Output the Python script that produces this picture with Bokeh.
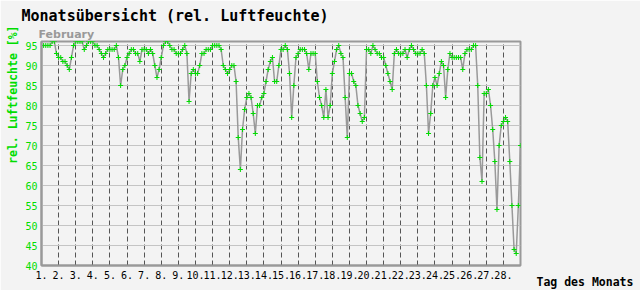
from bokeh.plotting import figure
from bokeh.models import Range1d, FixedTicker, Title, LinearAxis
from bokeh.embed import file_html
from bokeh.resources import INLINE

# ---------------- data ----------------
days = list(range(1, 29))
tick_labels = [f"{d}." for d in days]
y_ticks = [40, 45, 50, 55, 60, 65, 70, 75, 80, 85, 90, 95]
sample_hours = [0, 3, 6, 9, 12, 15, 18, 21]

# relative humidity [%], 3-hourly readings per day
day01 = [95, 95, 95, 95, 95, 96, 96, 93]
day02 = [92, 92, 91, 91, 90, 89, 92, 95]
day03 = [96, 96, 96, 96, 94, 95, 96, 96]
day04 = [96, 95, 95, 94, 93, 92, 93, 94]
day05 = [94, 94, 94, 95, 92, 85, 89, 90]
day06 = [92, 93, 94, 94, 93, 93, 91, 94]
day07 = [94, 94, 93, 94, 93, 90, 87, 89]
day08 = [92, 95, 96, 96, 95, 94, 94, 93]
day09 = [93, 93, 94, 95, 93, 81, 88, 89]
day10 = [88, 88, 90, 93, 93, 94, 94, 94]
day11 = [95, 95, 95, 95, 94, 90, 89, 88]
day12 = [89, 90, 90, 86, 72, 64, 74, 79]
day13 = [82, 83, 82, 78, 73, 80, 80, 82]
day14 = [83, 86, 89, 91, 92, 86, 86, 90]
day15 = [94, 94, 95, 94, 88, 77, 85, 92]
day16 = [93, 94, 94, 94, 93, 89, 93, 93]
day17 = [93, 86, 82, 80, 77, 84, 77, 80]
day18 = [88, 91, 94, 95, 93, 92, 82, 72]
day19 = [88, 88, 86, 85, 80, 78, 76, 77]
day20 = [94, 94, 93, 95, 94, 93, 93, 92]
day21 = [92, 90, 88, 86, 84, 93, 94, 93]
day22 = [93, 93, 94, 92, 94, 95, 94, 93]
day23 = [93, 93, 94, 93, 85, 73, 78, 85]
day24 = [87, 85, 88, 91, 90, 82, 89, 93]
day25 = [92, 92, 92, 92, 92, 89, 93, 94]
day26 = [94, 94, 95, 95, 85, 67, 61, 83]
day27 = [83, 84, 80, 74, 66, 54, 70, 75]
day28 = [76, 77, 76, 66, 55, 44, 43, 55]
month_end_value = 70

per_day = [day01, day02, day03, day04, day05, day06, day07, day08, day09, day10,
           day11, day12, day13, day14, day15, day16, day17, day18, day19, day20,
           day21, day22, day23, day24, day25, day26, day27, day28]

t = [d + h / 24 for d, vals in zip(days, per_day) for h in sample_hours] + [29.0]
rh = [v for vals in per_day for v in vals] + [month_end_value]

# ---------------- styling ----------------
BG = "#f3f3f3"
GREEN = "#00dd00"
MONO = "DejaVu Sans Mono"

p = figure(width=640, height=290, output_backend="svg", toolbar_location=None,
           title=None,
           x_range=Range1d(1, 29), y_range=Range1d(40, 96),
           min_border_left=40, min_border_right=120,
           min_border_top=41, min_border_bottom=25)
p.background_fill_color = BG
p.border_fill_color = BG
p.outline_line_color = "#999999"
p.outline_line_width = 2

p.xaxis.ticker = FixedTicker(ticks=days)
p.xaxis.major_label_overrides = {d: lab for d, lab in zip(days, tick_labels)}
p.yaxis.ticker = FixedTicker(ticks=y_ticks)

for ax in (p.xaxis[0], p.yaxis[0]):
    ax.axis_line_color = "#999999"
    ax.axis_line_width = 2
    ax.major_tick_line_color = None
    ax.minor_tick_line_color = None
    ax.major_tick_out = 0
    ax.major_tick_in = 0
    ax.minor_tick_out = 0
    ax.major_label_text_font = MONO

p.xaxis.major_label_text_font_size = "10px"
p.xaxis.major_label_text_color = "black"
p.xaxis.major_label_standoff = 5
p.yaxis.major_label_text_font_size = "10px"
p.yaxis.major_label_text_color = GREEN
p.yaxis.major_label_standoff = 4

p.ygrid.grid_line_color = "#c4c4c4"
p.ygrid.grid_line_width = 1
p.xgrid.grid_line_color = "#555555"
p.xgrid.grid_line_dash = "5 3"
p.xgrid.grid_line_width = 1

p.line(t, rh, line_color="#999999", line_width=1.5)
p.scatter(t, rh, marker="cross", size=5, line_color=GREEN, line_width=1)

# titles above the frame
p.add_layout(Title(text="February", align="left", offset=-3, standoff=2,
                   text_font="DejaVu Sans", text_font_size="11px",
                   text_font_style="bold", text_color="#999999"), "above")
p.add_layout(Title(text="Monatsübersicht (rel. Luftfeuchte)", align="left",
                   offset=-20, standoff=0, text_font=MONO, text_font_size="15px",
                   text_font_style="bold", text_color="black"), "above")

# y axis title (left side, rotated)
p.add_layout(Title(text="rel. Luftfeuchte [%]", align="right", offset=-16,
                   standoff=6, text_font=MONO, text_font_size="11.5px",
                   text_font_style="bold", text_color=GREEN), "left")

# x axis title at bottom right: a label-only axis in the right-side panel,
# one tick at the bottom of the value range, label pushed down by two blank lines
xt_axis = LinearAxis(ticker=FixedTicker(ticks=[y_ticks[0]]),
                     major_label_overrides={y_ticks[0]: "\n\nTag des Monats"},
                     axis_line_color=None, major_tick_line_color=None,
                     minor_tick_line_color=None, major_tick_out=0, major_tick_in=0,
                     minor_tick_out=0, major_label_standoff=16,
                     major_label_text_font=MONO, major_label_text_font_size="11.5px",
                     major_label_text_font_style="bold",
                     major_label_text_color="black")
p.add_layout(xt_axis, "right")

open("out.html", "w").write(file_html(p, INLINE))
